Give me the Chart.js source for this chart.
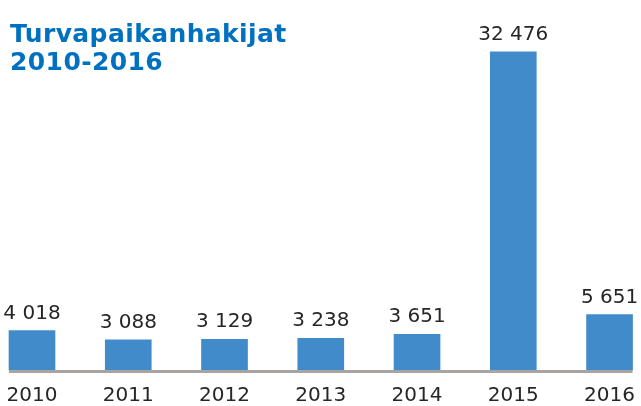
<!DOCTYPE html>
<html>
<head>
<meta charset="utf-8">
<script src="https://cdn.jsdelivr.net/npm/chart.js@4/dist/chart.umd.min.js"></script>
<style>
  html, body { margin: 0; padding: 0; background: #ffffff; }
  #wrap { position: relative; width: 641px; height: 406px; }
  #c { position: absolute; left: 0; top: 0; }
  #title {
    position: absolute; left: 10px; top: 20px; margin: 0;
    font-family: "DejaVu Sans", Verdana, sans-serif; font-weight: bold;
    font-size: 25px; line-height: 28px; letter-spacing: 0.4px; color: #0070C0;
  }
</style>
</head>
<body>
<div id="wrap">
  <canvas id="c" width="641" height="406"></canvas>
  <div id="title">Turvapaikanhakijat<br>2010-2016</div>
</div>
<script>
// ---- data ----
const years = ['2010', '2011', '2012', '2013', '2014', '2015', '2016'];
const applicants = [4018, 3088, 3129, 3238, 3651, 32476, 5651];
const yAxisMax = 35000;

// ---- helpers ----
function fmt(v) {
  return String(v).replace(/\B(?=(\d{3})+(?!\d))/g, ' ');
}

const TEXT = '#262626';
const FONT = '"DejaVu Sans", Verdana, sans-serif';

const baselinePlugin = {
  id: 'baseline',
  afterDatasetsDraw(chart) {
    const meta = chart.getDatasetMeta(0);
    const half = meta.data[0].width / 2;
    const x = chart.scales.x, y = chart.scales.y;
    const y0 = y.getPixelForValue(0);
    const ctx = chart.ctx;
    ctx.save();
    ctx.strokeStyle = '#A9A4A1';
    ctx.lineWidth = 3;
    ctx.beginPath();
    ctx.moveTo(x.left - half, y0 + 1.5);
    ctx.lineTo(x.right + half, y0 + 1.5);
    ctx.stroke();
    ctx.restore();
  }
};

const valueLabelPlugin = {
  id: 'valueLabels',
  afterDatasetsDraw(chart) {
    const meta = chart.getDatasetMeta(0);
    const ctx = chart.ctx;
    ctx.save();
    ctx.font = '20px ' + FONT;
    ctx.fillStyle = TEXT;
    ctx.textAlign = 'center';
    ctx.textBaseline = 'alphabetic';
    meta.data.forEach((bar, i) => {
      ctx.fillText(fmt(applicants[i]), bar.x, bar.y - 12);
    });
    ctx.restore();
  }
};

new Chart(document.getElementById('c'), {
  type: 'bar',
  data: {
    labels: years,
    datasets: [{
      data: applicants,
      backgroundColor: '#418BCA',
      borderWidth: 0,
      barThickness: 46,
      clip: false
    }]
  },
  options: {
    responsive: false,
    animation: false,
    devicePixelRatio: 1,
    layout: { padding: { left: 32, right: 31, top: 27, bottom: 3 } },
    plugins: { legend: { display: false }, tooltip: { enabled: false }, title: { display: false } },
    scales: {
      x: {
        offset: false,
        grid: { display: false },
        border: { display: false },
        ticks: { color: TEXT, font: { family: FONT, size: 20 }, padding: 6, maxRotation: 0, autoSkip: false },
        afterFit(scale) { scale.height = 33; }
      },
      y: {
        display: false,
        min: 0,
        max: yAxisMax
      }
    }
  },
  plugins: [baselinePlugin, valueLabelPlugin]
});
</script>
</body>
</html>
